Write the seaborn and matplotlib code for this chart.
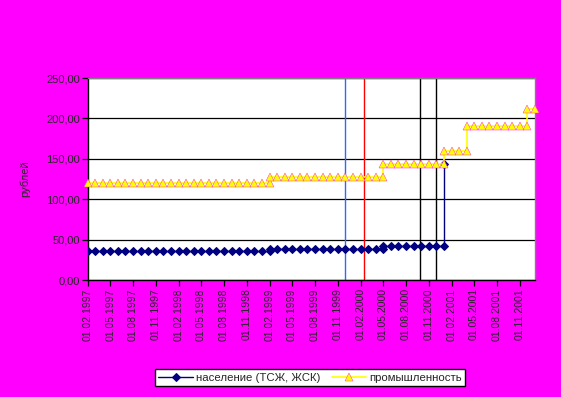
"""
Тарифы: население (ТСЖ, ЖСК) и промышленность, 1997-2002
"""

import pandas as pd
import matplotlib
matplotlib.use('Agg')
import matplotlib.pyplot as plt
import matplotlib.dates as mdates
import seaborn as sns

sns.set_style('white')
plt.rcParams['font.family'] = ['Liberation Sans', 'DejaVu Sans']

# месяцы 01.02.1997 ... 01.01.2002
months = pd.date_range('1997-02-01', '2002-01-01', freq='MS')

# промышленность, руб. (помесячно, 60 значений)
ind_values = [
    120, 120, 120, 120, 120, 120, 120, 120, 120, 120, 120, 120,
    120, 120, 120, 120, 120, 120, 120, 120, 120, 120, 120, 120,
    127, 127, 127, 127, 127, 127, 127, 127, 127, 127, 127, 127,
    127, 127, 127, 143, 143, 143, 143, 143, 143, 143, 143, 160,
    160, 160, 190, 190, 190, 190, 190, 190, 190, 190, 212, 212,
]

# население (ТСЖ, ЖСК), руб. (помесячно до 01.01.2001)
pop_values = [
    36, 36, 36, 36, 36, 36, 36, 36, 36, 36, 36, 36,
    36, 36, 36, 36, 36, 36, 36, 36, 36, 36, 36, 36,
    38, 38, 38, 38, 38, 38, 38, 38, 38, 38, 38, 38,
    38, 38, 38, 42, 42, 42, 42, 42, 42, 42, 42, 42,
]
pop_last_date = '2001-01-01'
pop_last_value = 143

# вертикальные отметки
mark_dates = ['1999-11-29', '2000-02-13', '2000-09-27', '2000-11-30']
mark_colors = ['#3366FF', '#FF0000', '#000000', '#000000']

tick_dates = pd.date_range('1997-02-01', '2001-11-01', freq='3MS')


def step_frame(dates, values):
    """как в Excel: при смене значения в ту же дату две точки"""
    rows = []
    prev = None
    for d, v in zip(dates, values):
        if prev is not None and v != prev:
            rows.append((len(rows), d, prev))
        rows.append((len(rows), d, v))
        prev = v
    return pd.DataFrame(rows, columns=['order', 'date', 'value'])


ind_df = step_frame(months, ind_values)
pop_df = step_frame(months[:len(pop_values)], pop_values)
pop_df.loc[len(pop_df)] = [len(pop_df), pd.Timestamp(pop_last_date), pop_last_value]

fig = plt.figure(figsize=(5.61, 3.97), dpi=100, facecolor='#FF00FF')
ax = fig.add_axes([0.1569, 0.2947, 0.7968, 0.5088])
ax.set_facecolor('white')

for d, c in zip(mark_dates, mark_colors):
    ax.axvline(pd.Timestamp(d), color=c, lw=1.0, zorder=1)

sns.lineplot(data=pop_df, x='date', y='value', ax=ax, sort=False, estimator=None,
             color='#000080', lw=1.0, marker='D', markersize=4.5,
             markeredgecolor='#000080', label='население (ТСЖ, ЖСК)', zorder=3)
sns.lineplot(data=ind_df, x='date', y='value', ax=ax, sort=False, estimator=None,
             color='#FFFF00', lw=1.2, marker='^', markersize=6,
             markerfacecolor='#FFFF00', markeredgecolor='#FF33CC', markeredgewidth=0.35,
             label='промышленность', zorder=4, clip_on=False)

ax.set_xlim(months[0], months[-1])
ax.set_ylim(0, 250)
ax.set_yticks(range(0, 251, 50))
ax.set_yticklabels([f'{v:.2f}'.replace('.', ',') for v in range(0, 251, 50)])
ax.set_xticks(tick_dates)
ax.xaxis.set_major_formatter(mdates.DateFormatter('%d.%m.%Y'))
plt.setp(ax.get_xticklabels(), rotation=90)

ax.yaxis.grid(True, color='black', lw=0.9)
ax.set_axisbelow(True)
ax.tick_params(axis='both', direction='out', length=4, width=0.9, color='black',
               labelsize=8, pad=2, bottom=True, left=True)
ax.tick_params(axis='x', labelsize=7.5)

for s in ['left', 'bottom']:
    ax.spines[s].set_color('black')
    ax.spines[s].set_linewidth(1.0)
for s in ['top', 'right']:
    ax.spines[s].set_color('#808080')
    ax.spines[s].set_linewidth(1.0)

ax.set_xlabel('')
ax.set_ylabel('рублей', fontsize=8)
ax.yaxis.set_label_coords(-0.13, 0.5)

handles, labels = ax.get_legend_handles_labels()
ax.legend_.remove()
leg = fig.legend(handles, labels, loc='center', bbox_to_anchor=(0.553, 0.049), ncol=2,
                 frameon=True, fancybox=False, edgecolor='black', framealpha=1,
                 fontsize=8.2, borderpad=0.3, handlelength=3, columnspacing=1.0,
                 handletextpad=0.3)
leg.get_frame().set_linewidth(1.0)

plt.savefig('out.png', dpi=100, facecolor=fig.get_facecolor())
